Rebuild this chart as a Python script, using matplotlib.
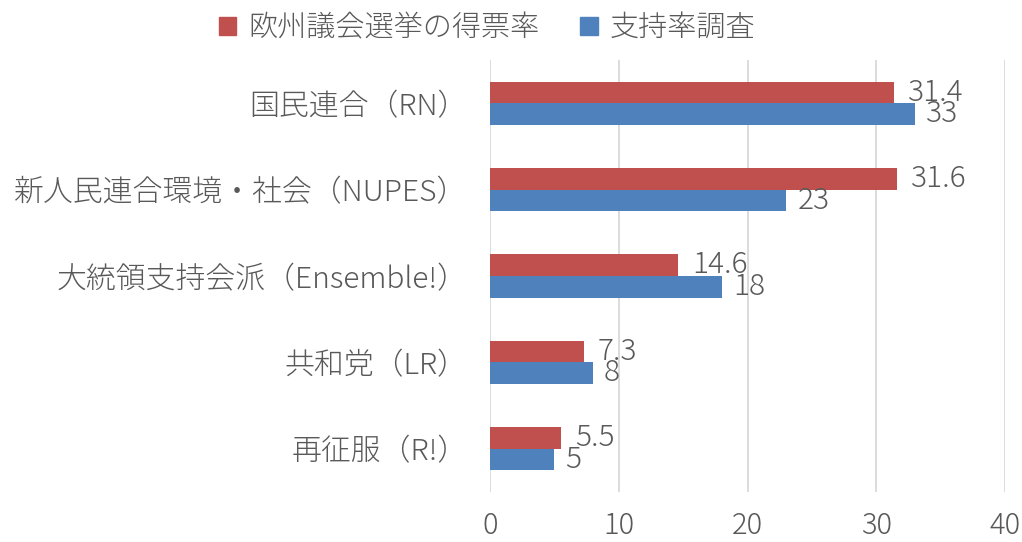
import matplotlib
matplotlib.use("Agg")
import matplotlib.pyplot as plt
from matplotlib.patches import Patch

plt.rcParams['font.family'] = ['Noto Sans CJK JP', 'DejaVu Sans']

# ===================== DATOS =====================
categorias = ["国民連合（RN）", "新人民連合環境・社会（NUPES）", "大統領支持会派（Ensemble!）",
              "共和党（LR）", "再征服（R!）"]
voto_euro = [31.4, 31.6, 14.6, 7.3, 5.5]
encuesta = [33, 23, 18, 8, 5]
etiquetas_euro = ["31.4", "31.6", "14.6", "7.3", "5.5"]
etiquetas_enc = ["33", "23", "18", "8", "5"]
nombres_series = ["欧州議会選挙の得票率", "支持率調査"]
ticks_x = [0, 10, 20, 30, 40]

color_rojo = "#C0504D"
color_azul = "#4F81BD"
color_texto = "#595959"

# ===================== FIGURA =====================
fig = plt.figure(figsize=(10.22, 5.42), dpi=100)
ax = fig.add_axes([490 / 1022, 1 - 492 / 542, 515 / 1022, 432 / 542])

y = list(range(len(categorias)))
h = 0.25
ax.barh([v - h / 2 for v in y], voto_euro, height=h, color=color_rojo, zorder=3)
ax.barh([v + h / 2 for v in y], encuesta, height=h, color=color_azul, zorder=3)

# etiquetas de datos (se solapan un poco, igual que en el original)
for i in y:
    ax.annotate(etiquetas_euro[i], (voto_euro[i], i - h / 2), xytext=(10, 0),
                textcoords="offset points", va="center", ha="left",
                fontsize=21.5, color=color_texto, fontweight="light")
    ax.annotate(etiquetas_enc[i], (encuesta[i], i + h / 2), xytext=(8, 0),
                textcoords="offset points", va="center", ha="left",
                fontsize=21.5, color=color_texto, fontweight="light")

ax.set_xlim(0, 40)
ax.set_ylim(len(categorias) - 0.5, -0.5)
ax.set_xticks(ticks_x)
ax.set_yticks(y)
ax.set_yticklabels(categorias)
ax.tick_params(axis="both", length=0, labelsize=21, colors=color_texto)
ax.tick_params(axis="y", labelsize=21.5, pad=16)
ax.tick_params(axis="x", pad=13)
for lab in ax.get_xticklabels() + ax.get_yticklabels():
    lab.set_fontweight("light")

ax.grid(axis="x", color="#D9D9D9", linewidth=1.3, zorder=0)
for s in ax.spines.values():
    s.set_visible(False)

# Leyenda
handles = [Patch(color=color_rojo), Patch(color=color_azul)]
leg = fig.legend(handles, nombres_series, loc="center", bbox_to_anchor=(487 / 1022, 1 - 28 / 542),
                 ncol=2, frameon=False, fontsize=21, handlelength=0.6, handleheight=0.6,
                 handletextpad=0.4, columnspacing=1.4)
for t in leg.get_texts():
    t.set_color(color_texto)
    t.set_fontweight("light")

plt.savefig("out.png", dpi=100)
